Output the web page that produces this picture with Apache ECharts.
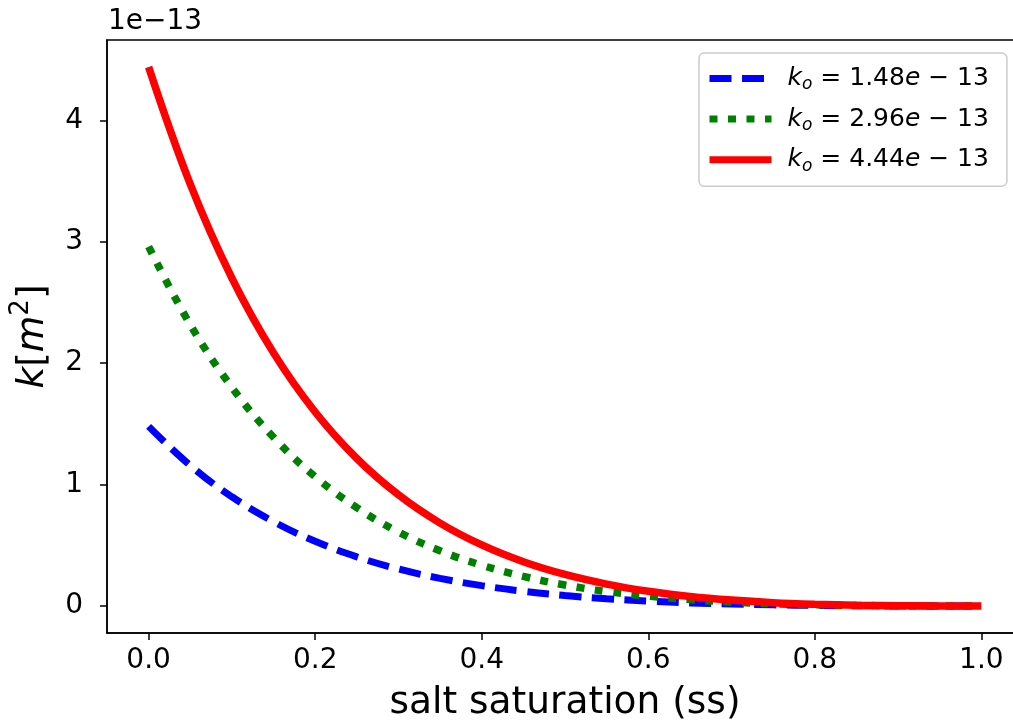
<!DOCTYPE html>
<html>
<head>
<meta charset="utf-8">
<script src="https://cdn.jsdelivr.net/npm/echarts@6/dist/echarts.min.js"></script>
<style>
  html, body { margin: 0; padding: 0; background: #ffffff; }
  #chart { width: 1013px; height: 724px; }
</style>
</head>
<body>
<div id="chart"></div>
<script>
// Permeability versus salt saturation, values in units of 1e-13 m²
const ss = [0.00, 0.05, 0.10, 0.15, 0.20, 0.25, 0.30, 0.35, 0.40, 0.45, 0.50,
            0.55, 0.60, 0.65, 0.70, 0.75, 0.80, 0.85, 0.90, 0.95, 1.00];
const kLow  = [1.480, 1.158, 0.900, 0.695, 0.533, 0.405, 0.305, 0.228, 0.168, 0.122, 0.087,
               0.060, 0.041, 0.026, 0.016, 0.010, 0.005, 0.002, 0.001, 0.000, 0.000];
const kMid  = [2.960, 2.317, 1.801, 1.390, 1.065, 0.810, 0.610, 0.455, 0.336, 0.244, 0.173,
               0.120, 0.081, 0.053, 0.033, 0.019, 0.010, 0.005, 0.002, 0.000, 0.000];
const kHigh = [4.440, 3.475, 2.701, 2.085, 1.598, 1.215, 0.916, 0.683, 0.503, 0.365, 0.260,
               0.181, 0.122, 0.079, 0.049, 0.028, 0.015, 0.007, 0.003, 0.001, 0.000];
const koLabels = ['1.48', '2.96', '4.44'];
const xTicks = [0.0, 0.2, 0.4, 0.6, 0.8, 1.0];
const yTicks = [0, 1, 2, 3, 4];
const offsetText = '1e\u221213';

const FONT = 'DejaVu Sans';
const TICK_SIZE = 28;
const pairs = vals => ss.map((x, i) => [x, vals[i]]);
const legendName = ko => '{i|k}{s|o}{n| = ' + ko + '}{i|e}{n| \u2212 13}';

const chart = echarts.init(document.getElementById('chart'), null, { renderer: 'canvas' });

const axisCommon = {
  type: 'value',
  axisLine: { show: true, onZero: false, lineStyle: { color: '#000', width: 1.5 } },
  axisTick: { show: true, length: 7, lineStyle: { color: '#000', width: 1.5 } },
  splitLine: { show: false },
  nameMoveOverlap: false
};

chart.setOption({
  animation: false,
  backgroundColor: '#ffffff',
  textStyle: { fontFamily: FONT },
  grid: {
    left: 107, top: 40, width: 916, height: 593,
    outerBoundsMode: 'none', containLabel: false,
    show: true, borderColor: '#000', borderWidth: 1.5, backgroundColor: 'transparent'
  },
  xAxis: Object.assign({}, axisCommon, {
    min: -0.05, max: 1.05,
    axisTick: Object.assign({}, axisCommon.axisTick, { customValues: xTicks }),
    axisLabel: {
      customValues: xTicks, formatter: v => v.toFixed(1),
      fontSize: TICK_SIZE, color: '#000', fontFamily: FONT, margin: 14
    },
    name: 'salt saturation (ss)', nameLocation: 'middle', nameGap: 51,
    nameTextStyle: { fontSize: 37.5, color: '#000', fontFamily: FONT }
  }),
  yAxis: Object.assign({}, axisCommon, {
    min: -0.222, max: 4.662,
    axisTick: Object.assign({}, axisCommon.axisTick, { customValues: yTicks }),
    axisLabel: {
      customValues: yTicks, formatter: v => String(v),
      fontSize: TICK_SIZE, color: '#000', fontFamily: FONT, margin: 24
    },
    name: '{i|k}{r|[}{i|m}{p|2}{r|]}', nameLocation: 'middle', nameGap: 49, nameRotate: 90,
    nameTextStyle: {
      color: '#000', fontFamily: FONT, fontSize: 37.5,
      rich: {
        i: { fontStyle: 'italic', fontSize: 37.5, lineHeight: 50, fontFamily: FONT, color: '#000' },
        r: { fontSize: 37.5, lineHeight: 50, fontFamily: FONT, color: '#000' },
        p: { fontSize: 26, lineHeight: 26, verticalAlign: 'top', fontFamily: FONT, color: '#000' }
      }
    }
  }),
  legend: {
    orient: 'vertical', left: 699, top: 53, align: 'left',
    itemWidth: 62, itemHeight: 20, itemGap: 13.1,
    padding: [13, 18, 11.5, 7],
    backgroundColor: 'rgba(255,255,255,0.8)',
    borderColor: '#cccccc', borderWidth: 1.5, borderRadius: 5,
    itemStyle: { opacity: 0 },
    lineStyle: { width: 7 },
    selectedMode: false,
    textStyle: {
      color: '#000', fontFamily: FONT, fontSize: 25, padding: [0, 0, 0, 11],
      rich: {
        i: { fontStyle: 'italic', fontSize: 25, lineHeight: 30, fontFamily: FONT, color: '#000' },
        n: { fontSize: 25, lineHeight: 30, fontFamily: FONT, color: '#000' },
        s: { fontStyle: 'italic', fontSize: 17, lineHeight: 18, verticalAlign: 'bottom', fontFamily: FONT, color: '#000' }
      }
    },
    data: koLabels.map(legendName)
  },
  graphic: [{
    type: 'text', left: 108, top: 8,
    style: { text: offsetText, fontSize: TICK_SIZE, fontFamily: FONT, fill: '#000' }
  }],
  series: [
    {
      name: legendName(koLabels[0]), type: 'line', data: pairs(kLow),
      smooth: 0.4, symbol: 'none', z: 2,
      lineStyle: { color: '#0000ff', width: 7, type: [22, 10.5], cap: 'butt' }
    },
    {
      name: legendName(koLabels[1]), type: 'line', data: pairs(kMid),
      smooth: 0.4, symbol: 'none', z: 3,
      lineStyle: { color: '#008000', width: 7.5, type: [8, 10.5], cap: 'butt' }
    },
    {
      name: legendName(koLabels[2]), type: 'line', data: pairs(kHigh),
      smooth: 0.4, symbol: 'none', z: 4,
      lineStyle: { color: '#ff0000', width: 7.5, type: 'solid', cap: 'butt' }
    }
  ]
});
</script>
</body>
</html>
